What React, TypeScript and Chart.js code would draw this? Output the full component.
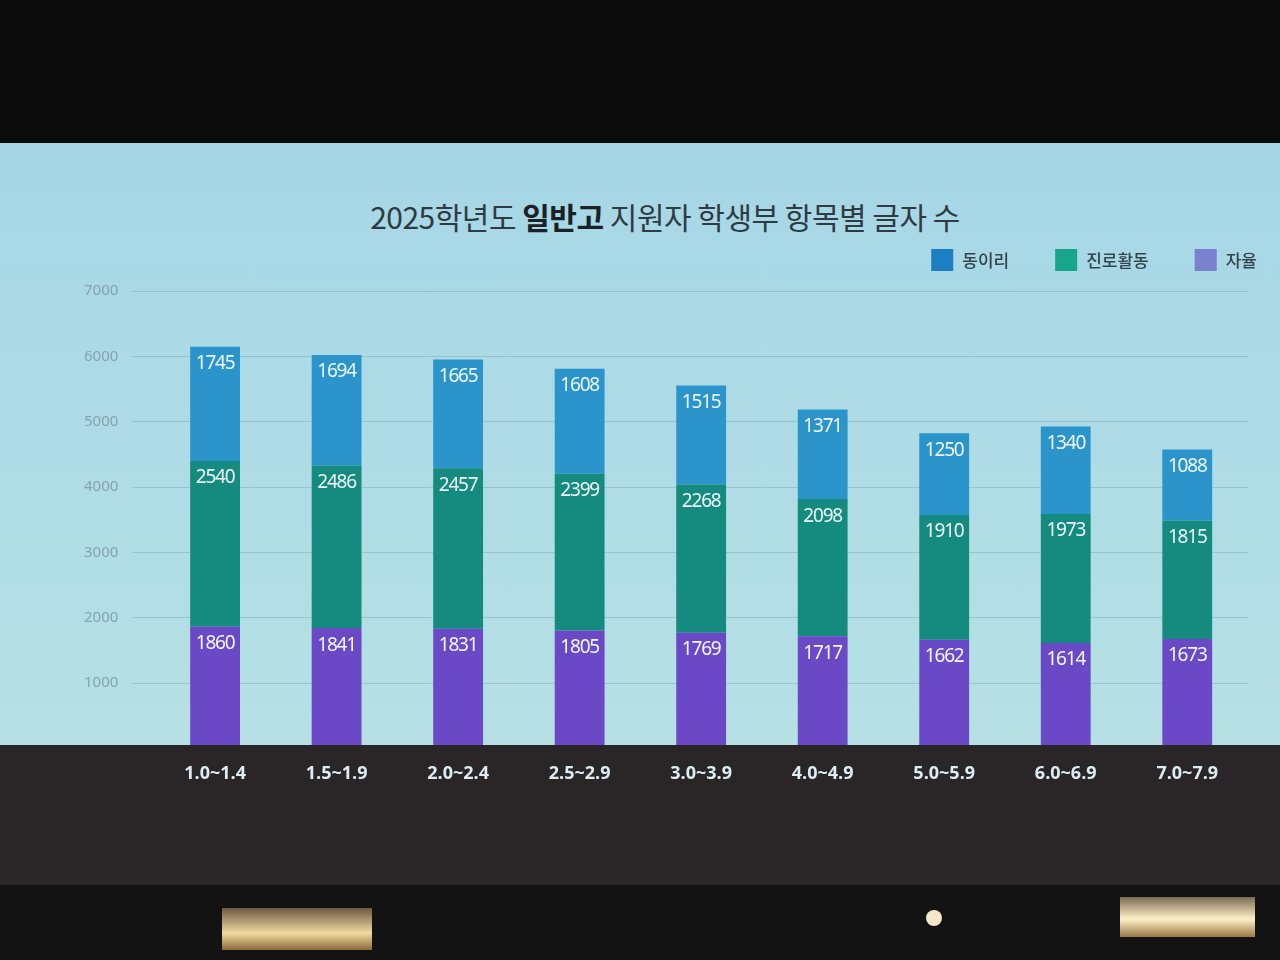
import React, { useEffect, useRef } from "react";
import { Chart, registerables } from "chart.js";

Chart.register(...registerables);

const categories = ["1.0~1.4", "1.5~1.9", "2.0~2.4", "2.5~2.9", "3.0~3.9", "4.0~4.9", "5.0~5.9", "6.0~6.9", "7.0~7.9"];
const seriesNames = ["자율", "진로활동", "동이리"];
const autonomy = [1860, 1841, 1831, 1805, 1769, 1717, 1662, 1614, 1673];
const career = [2540, 2486, 2457, 2399, 2268, 2098, 1910, 1973, 1815];
const club = [1745, 1694, 1665, 1608, 1515, 1371, 1250, 1340, 1088];
const yTicks = [1000, 2000, 3000, 4000, 5000, 6000, 7000];

const barColors = ["#6a48c6", "#148b7e", "#2b94ca"];
const legendColors = ["#7a82cf", "#17a68b", "#1b80c1"];

const barLabelPlugin = {
  id: "barLabels",
  afterDatasetsDraw(chart: any) {
    const ctx = chart.ctx;
    ctx.save();
    ctx.font = '400 19px "Noto Sans", sans-serif';
    ctx.fillStyle = "#eef8fb";
    ctx.textAlign = "center";
    ctx.textBaseline = "middle";
    try { (ctx as any).letterSpacing = "-1.2px"; } catch (e) {}
    chart.data.datasets.forEach((ds: any, di: number) => {
      const meta = chart.getDatasetMeta(di);
      meta.data.forEach((bar: any, i: number) => {
        ctx.fillText(String(ds.data[i]), bar.x, bar.y + 17);
      });
    });
    ctx.restore();
  },
};

const legendPlugin = {
  id: "customLegend",
  afterDraw(chart: any) {
    const ctx = chart.ctx;
    const area = chart.chartArea;
    ctx.save();
    ctx.font = '500 17px "Noto Sans CJK KR", sans-serif';
    ctx.textBaseline = "middle";
    const box = 22;
    const gapBoxText = 9;
    const gapItems = 46;
    const items = chart.data.datasets.map((ds: any, i: number) => ({
      text: ds.label,
      color: legendColors[i],
    })).reverse();
    const widths = items.map((it: any) => box + gapBoxText + ctx.measureText(it.text).width);
    const total = widths.reduce((a: number, b: number) => a + b, 0) + gapItems * (items.length - 1);
    let x = area.right + 9 - total;
    const y = area.top - 31;
    items.forEach((it: any, i: number) => {
      ctx.fillStyle = it.color;
      ctx.fillRect(x, y - box / 2, box, box);
      ctx.fillStyle = "#34444c";
      ctx.fillText(it.text, x + box + gapBoxText, y + 1);
      x += widths[i] + gapItems;
    });
    ctx.restore();
  },
};

export default function App() {
  const ref = useRef<HTMLCanvasElement>(null);

  useEffect(() => {
    if (!ref.current) return;
    const values = [autonomy, career, club];
    const chart = new Chart(ref.current, {
      type: "bar",
      data: {
        labels: categories,
        datasets: seriesNames.map((name, i) => ({
          label: name,
          data: values[i],
          backgroundColor: barColors[i],
          borderWidth: 0,
          barPercentage: 0.41,
          categoryPercentage: 1,
        })),
      },
      options: {
        responsive: false,
        animation: false,
        layout: { padding: { left: 70, right: 32, top: 291, bottom: 160 } },
        plugins: {
          legend: { display: false },
          title: { display: false },
          tooltip: { enabled: false },
        },
        scales: {
          x: {
            stacked: true,
            grid: { display: false, drawTicks: false },
            border: { display: false },
            ticks: {
              color: "#dcecf3",
              padding: 15,
              font: { family: '"Open Sans", "Noto Sans", sans-serif', size: 18, weight: "bold" },
            },
          },
          y: {
            stacked: true,
            min: 0,
            max: 7000,
            afterBuildTicks(axis: any) {
              axis.ticks = yTicks.map((v) => ({ value: v }));
            },
            grid: {
              color: "rgba(110,150,162,0.35)",
              lineWidth: 1,
              drawTicks: true,
              tickLength: 22,
              tickColor: "rgba(110,150,162,0.35)",
            },
            border: { display: false },
            ticks: {
              color: "#85a3ae",
              padding: 14,
              font: { family: '"Noto Sans", sans-serif', size: 15 },
              callback: (v: any) => String(v),
            },
          },
        },
      },
      plugins: [barLabelPlugin, legendPlugin],
    });
    return () => chart.destroy();
  }, []);

  return (
    <div style={{ position: "fixed", left: 0, top: 0, width: 1280, height: 960, background: "#0b0b0c", overflow: "hidden" }}>
      <div style={{ position: "absolute", left: 0, top: 143, width: 1280, height: 602, background: "linear-gradient(180deg, #a6d6e6 0%, #aedbe5 50%, #b6e0e4 100%)" }} />
      <div style={{ position: "absolute", left: 0, top: 885, width: 1280, height: 75, background: "#141313" }} />
      <div style={{ position: "absolute", left: 222, top: 908, width: 150, height: 42, background: "linear-gradient(180deg, #6b5a40 0%, #f2d9a0 60%, #8a6a3a 100%)" }} />
      <div style={{ position: "absolute", left: 1120, top: 897, width: 135, height: 40, background: "linear-gradient(180deg, #7a6a50 0%, #fff0c8 55%, #9a7a45 100%)" }} />
      <div style={{ position: "absolute", left: 926, top: 910, width: 16, height: 16, borderRadius: 8, background: "#f4e6c8" }} />
      <div
        style={{
          position: "absolute",
          left: 665,
          top: 194,
          transform: "translateX(-50%)",
          whiteSpace: "nowrap",
          fontFamily: '"Noto Sans CJK KR", sans-serif',
          fontSize: 30,
          color: "#2f3b42",
          letterSpacing: "-0.5px",
        }}
      >
        2025학년도 <b style={{ fontWeight: 700, color: "#1b2226" }}>일반고</b> 지원자 학생부 항목별 글자 수
      </div>
      <canvas ref={ref} width={1280} height={960} style={{ position: "absolute", left: 0, top: 0, width: 1280, height: 960 }} />
      <div style={{ position: "absolute", left: 0, top: 745, width: 1280, height: 140, background: "#2a2627", zIndex: 0, pointerEvents: "none", mixBlendMode: "normal", opacity: 0 }} />
      <div style={{ position: "absolute", left: 0, top: 745, width: 1280, height: 4, background: "#2a2627" }} />
      <div style={{ position: "absolute", left: 0, top: 749, width: 1280, height: 136, background: "#2a2627", zIndex: -1 }} />
    </div>
  );
}
